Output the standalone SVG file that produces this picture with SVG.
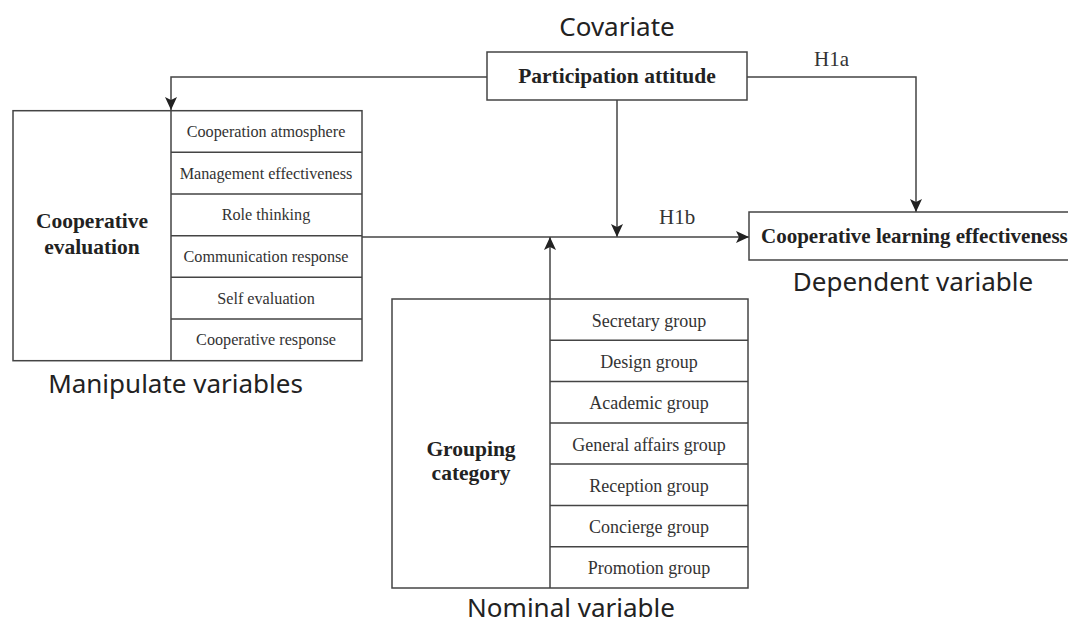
<svg xmlns="http://www.w3.org/2000/svg" width="1068" height="627" viewBox="0 0 1068 627">
<style>
.box{fill:#fff;stroke:#444;stroke-width:1.5}
.ln{fill:none;stroke:#444;stroke-width:1.5}
.cap{font-family:"Noto Sans","Open Sans",sans-serif;font-size:26px;fill:#222;text-anchor:middle}
.bold{font-family:"Liberation Serif","Times New Roman",serif;font-weight:bold;font-size:21.5px;fill:#222;text-anchor:middle}
.row{font-family:"Liberation Serif","Times New Roman",serif;font-size:16.2px;fill:#333;text-anchor:middle}
.row2{font-family:"Liberation Serif","Times New Roman",serif;font-size:18px;fill:#333;text-anchor:middle}
.hyp{font-family:"Liberation Serif","Times New Roman",serif;font-size:21px;fill:#333}
</style>
<defs>
<marker id="arr" viewBox="0 0 14 14" refX="13" refY="7" markerWidth="14" markerHeight="14" markerUnits="userSpaceOnUse" orient="auto">
<path d="M0,1 L13,7 L0,13 L3,7 z" fill="#222"/>
</marker>
</defs>
<rect width="1068" height="627" fill="#fff"/>

<g id="connectors">
<path class="ln" d="M487,77 H171 V110" marker-end="url(#arr)"/>
<path class="ln" d="M747,77 H916 V212" marker-end="url(#arr)"/>
<path class="ln" d="M617,100 V237" marker-end="url(#arr)"/>
<path class="ln" d="M362,237 H749" marker-end="url(#arr)"/>
<path class="ln" d="M550,299 V237" marker-end="url(#arr)"/>
<text class="hyp" x="814" y="66">H1a</text>
<text class="hyp" x="659" y="224">H1b</text>
</g>

<g id="covariate">
<text class="cap" x="617" y="36">Covariate</text>
<rect class="box" x="487" y="52" width="260" height="48"/>
<text class="bold" x="617" y="83">Participation attitude</text>
</g>

<g id="dependent">
<rect class="box" x="749" y="212" width="330" height="48"/>
<text class="bold" x="761" y="243" style="text-anchor:start;font-size:21px">Cooperative learning effectiveness</text>
<text class="cap" x="913" y="291">Dependent variable</text>
</g>

<g id="manipulate">
<rect class="box" x="13" y="110.7" width="349" height="250"/>
<path class="ln" d="M171,110.7 V360.7 M171,152.3 H362 M171,194 H362 M171,235.7 H362 M171,277.3 H362 M171,319 H362"/>
<text class="bold" x="92" y="228">Cooperative</text>
<text class="bold" x="92" y="254">evaluation</text>
<text class="row" x="266" y="137">Cooperation atmosphere</text>
<text class="row" x="266" y="178.7">Management effectiveness</text>
<text class="row" x="266" y="220.3">Role thinking</text>
<text class="row" x="266" y="262">Communication response</text>
<text class="row" x="266" y="303.7">Self evaluation</text>
<text class="row" x="266" y="345.3">Cooperative response</text>
<text class="cap" x="175.5" y="393">Manipulate variables</text>
</g>

<g id="nominal">
<rect class="box" x="392" y="299" width="356" height="289"/>
<path class="ln" d="M550,299 V588 M550,340.3 H748 M550,381.6 H748 M550,422.9 H748 M550,464.1 H748 M550,505.4 H748 M550,546.7 H748"/>
<text class="bold" x="471" y="455.5">Grouping</text>
<text class="bold" x="471" y="480">category</text>
<text class="row2" x="649" y="326.5">Secretary group</text>
<text class="row2" x="649" y="368">Design group</text>
<text class="row2" x="649" y="409.3">Academic group</text>
<text class="row2" x="649" y="450.5">General affairs group</text>
<text class="row2" x="649" y="491.8">Reception group</text>
<text class="row2" x="649" y="533">Concierge group</text>
<text class="row2" x="649" y="574.4">Promotion group</text>
<text class="cap" x="571" y="617">Nominal variable</text>
</g>
</svg>
